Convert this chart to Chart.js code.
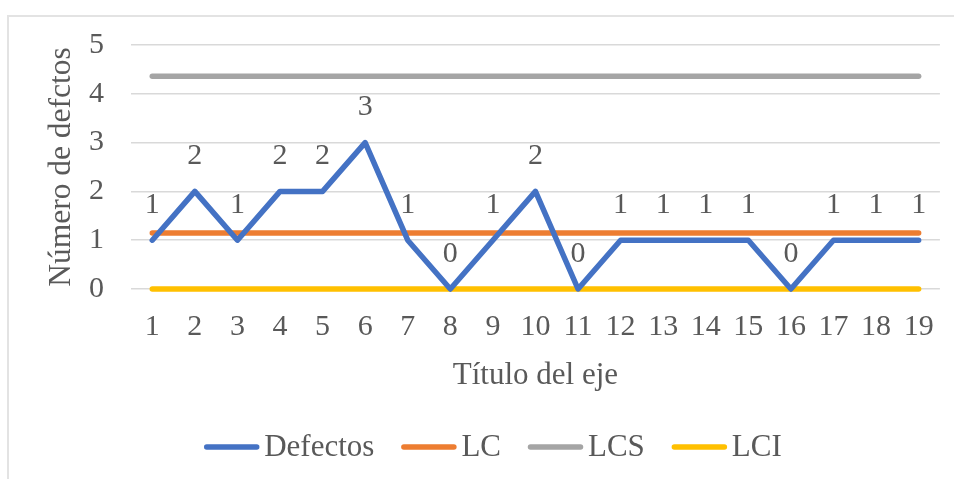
<!DOCTYPE html>
<html>
<head>
<meta charset="utf-8">
<script src="https://cdn.jsdelivr.net/npm/chart.js@4.4.1/dist/chart.umd.min.js"></script>
<style>
  html, body { margin: 0; padding: 0; background: #ffffff; }
  #wrap { position: relative; width: 954px; height: 479px; overflow: hidden; }
  #frame {
    position: absolute; left: 7px; top: 15px; width: 1000px; height: 520px;
    border-left: 2px solid #e3e3e3; border-top: 2px solid #e3e3e3; box-sizing: border-box;
  }
  #chart { position: absolute; left: 0; top: 0; }
</style>
</head>
<body>
<div id="wrap">
  <div id="frame"></div>
  <canvas id="chart" width="954" height="479"></canvas>
</div>
<script>
// Sample numbers (x axis)
const muestras = ['1','2','3','4','5','6','7','8','9','10','11','12','13','14','15','16','17','18','19'];
// Defects counted per sample
const defectos = [1, 2, 1, 2, 2, 3, 1, 0, 1, 2, 0, 1, 1, 1, 1, 0, 1, 1, 1];
// Centre line, upper and lower control limits
const lc  = [1.15, 1.15, 1.15, 1.15, 1.15, 1.15, 1.15, 1.15, 1.15, 1.15, 1.15, 1.15, 1.15, 1.15, 1.15, 1.15, 1.15, 1.15, 1.15];
const lcs = [4.36, 4.36, 4.36, 4.36, 4.36, 4.36, 4.36, 4.36, 4.36, 4.36, 4.36, 4.36, 4.36, 4.36, 4.36, 4.36, 4.36, 4.36, 4.36];
const lci = [0, 0, 0, 0, 0, 0, 0, 0, 0, 0, 0, 0, 0, 0, 0, 0, 0, 0, 0];
// Y axis tick labels
const yTicks = ['0', '1', '2', '3', '4', '5'];

const FONT = "'Liberation Serif', 'Times New Roman', serif";
const TEXT = '#595959';

// Value labels above the Defectos line
const valueLabels = {
  id: 'valueLabels',
  afterDatasetsDraw(chart) {
    const ctx = chart.ctx;
    const meta = chart.getDatasetMeta(0);
    ctx.save();
    ctx.font = '30px ' + FONT;
    ctx.fillStyle = TEXT;
    ctx.textAlign = 'center';
    ctx.textBaseline = 'middle';
    meta.data.forEach((pt, i) => {
      ctx.fillText(String(chart.data.datasets[0].data[i]), pt.x, pt.y - 35);
    });
    ctx.restore();
  }
};

// Legend drawn under the axis title: short line sample followed by the series name
const lineLegend = {
  id: 'lineLegend',
  afterDraw(chart) {
    const ctx = chart.ctx;
    const o = chart.options.plugins.lineLegend;
    ctx.save();
    ctx.font = o.fontSize + 'px ' + FONT;
    const items = chart.data.datasets.map(ds => ({
      text: ds.label, color: ds.borderColor, w: ctx.measureText(ds.label).width
    }));
    const total = items.reduce((s, it) => s + o.sample + o.gap + it.w, 0) + o.spacing * (items.length - 1);
    let x = o.centerX - total / 2;
    const y = o.centerY;
    ctx.textBaseline = 'middle';
    ctx.textAlign = 'left';
    items.forEach(it => {
      ctx.beginPath();
      ctx.strokeStyle = it.color;
      ctx.lineWidth = 5.5;
      ctx.lineCap = 'round';
      ctx.moveTo(x + 2.5, y);
      ctx.lineTo(x + o.sample - 2.5, y);
      ctx.stroke();
      ctx.fillStyle = TEXT;
      ctx.fillText(it.text, x + o.sample + o.gap, y + 1);
      x += o.sample + o.gap + it.w + o.spacing;
    });
    ctx.restore();
  }
};

const lineDs = (label, data, color, width) => ({
  label, data,
  borderColor: color, backgroundColor: color,
  borderWidth: width, borderCapStyle: 'round', borderJoinStyle: 'round',
  pointRadius: 0, pointHoverRadius: 0, tension: 0, fill: false, clip: false
});

new Chart(document.getElementById('chart'), {
  type: 'line',
  data: {
    labels: muestras,
    datasets: [
      lineDs('Defectos', defectos, '#4472C4', 5.5),
      lineDs('LC', lc, '#ED7D31', 5.5),
      lineDs('LCS', lcs, '#A5A5A5', 5.5),
      lineDs('LCI', lci, '#FFC000', 5.5)
    ]
  },
  options: {
    responsive: false,
    animation: false,
    layout: { padding: { left: 0, right: 14, top: 45, bottom: 79 } },
    plugins: {
      legend: { display: false },
      tooltip: { enabled: false },
      lineLegend: { centerX: 493, centerY: 447, fontSize: 31, sample: 55, gap: 5, spacing: 27 }
    },
    scales: {
      x: {
        type: 'category',
        offset: true,
        grid: { display: false, drawTicks: false },
        border: { display: false },
        ticks: { color: TEXT, font: { family: FONT, size: 30 }, padding: 20, maxRotation: 0, autoSkip: false },
        title: { display: true, text: 'Título del eje', color: TEXT, font: { family: FONT, size: 31 }, padding: { top: 0, bottom: 6 } },
        afterFit(scale) { scale.height = 111; }
      },
      y: {
        min: 0, max: 5,
        grid: { color: '#d9d9d9', lineWidth: 1.5, drawTicks: false },
        border: { display: false },
        ticks: {
          stepSize: 1, color: TEXT, font: { family: FONT, size: 30 }, padding: 27,
          callback: (v) => yTicks[v]
        },
        title: { display: true, text: 'Número de defctos', color: TEXT, font: { family: FONT, size: 31.5 }, padding: { top: 43, bottom: 0 } },
        afterFit(scale) { scale.width = 131; }
      }
    }
  },
  plugins: [valueLabels, lineLegend]
});
</script>
</body>
</html>
